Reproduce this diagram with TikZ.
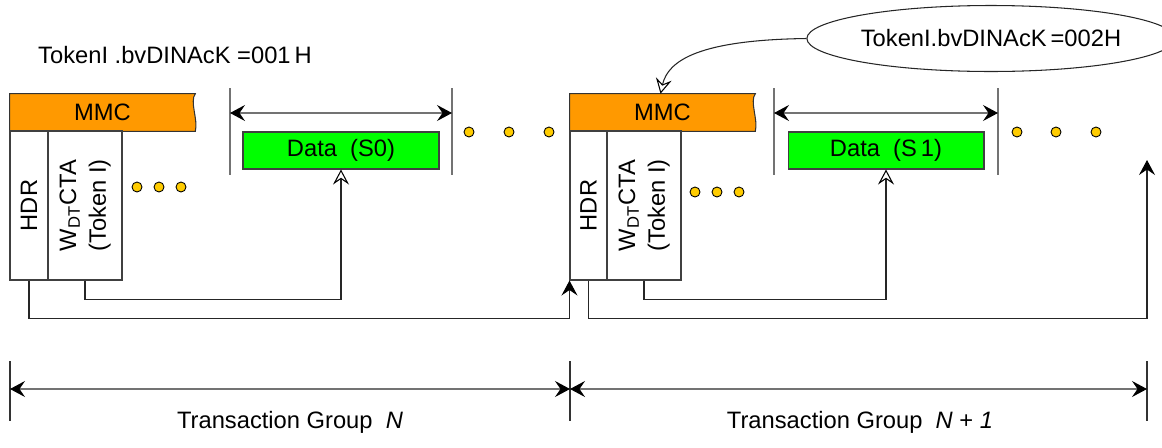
\documentclass[tikz,border=0pt]{standalone}
\usepackage{fontspec}
\setmainfont{Liberation Sans}
\usepackage{graphicx}
\usetikzlibrary{positioning,arrows.meta,shapes.geometric,backgrounds}
\definecolor{mmcorange}{RGB}{255,153,0}
\definecolor{datagreen}{RGB}{0,255,0}
\definecolor{dotgold}{RGB}{255,204,0}

\begin{document}
\begin{tikzpicture}[
    x=0.02cm, y=-0.02cm,
    >={Stealth[length=0.3cm, width=0.32cm, inset=0.11cm, color=black]},
    font=\fontsize{13.5}{17}\selectfont,
    banner/.style={draw=black!80, fill=mmcorange, line width=0.6pt},
    mmc/.style={
        rectangle, minimum width=3.7cm, minimum height=0.74cm,
        inner sep=0pt
    },
    field/.style={
        rectangle, draw=black!75, fill=white, line width=0.6pt,
        minimum height=2.98cm, inner sep=0pt
    },
    data/.style={
        rectangle, draw=black!75, fill=datagreen, line width=0.6pt,
        minimum width=3.92cm, minimum height=0.74cm, inner sep=0pt
    },
    dot/.style={circle, draw=black, fill=dotgold, line width=0.5pt,
        minimum size=0.2cm, inner sep=0pt},
    tick/.style={draw=black!55, line width=0.6pt},
    dim/.style={<->, draw=black!55, line width=0.6pt},
    link/.style={draw=black!85, line width=0.6pt},
    fwd/.style={link, ->},
    ptr/.style={link,
        arrows={-Stealth[open, length=0.3cm, width=0.32cm, inset=0.11cm, color=black]}},
]
\useasboundingbox (0,0) rectangle (1162,447);

% ── Transaction group N ──
\node[mmc] (mmcA) at (102.5,112.5) {MMC};
\node[field, minimum width=0.76cm] (hdrA) at (29,205.5)
    {\rotatebox{90}{HDR}};
\node[field, minimum width=1.48cm] (ctaA) at (85,205.5)
    {\rotatebox{90}{\begin{tabular}{@{}c@{}}W\textsubscript{DT}CTA\\(Token I)\end{tabular}}};
\foreach \x [count=\i] in {137,159,181}
    \node[dot] (dA\i) at (\x,187) {};

\node (ackA) at (175,55) {TokenI .bvDINAcK =001\,H};

\coordinate (spanAl) at (230,113);
\coordinate (spanAr) at (452,113);
\draw[tick] (spanAl) ++(0,-25) -- ++(0,87);
\draw[tick] (spanAr) ++(0,-25) -- ++(0,87);
\draw[dim] (spanAl) -- (spanAr);
\node[data] (dataA) at (341,150.5) {Data\ \ (S0)};
\foreach \x [count=\i] in {469,509,549}
    \node[dot] (eA\i) at (\x,132) {};

% ── Transaction group N+1 ──
\node[mmc] (mmcB) at (662.5,112.5) {MMC};
\node[field, minimum width=0.74cm] (hdrB) at (588.5,205.5)
    {\rotatebox{90}{HDR}};
\node[field, minimum width=1.48cm] (ctaB) at (644,205.5)
    {\rotatebox{90}{\begin{tabular}{@{}c@{}}W\textsubscript{DT}CTA\\(Token I)\end{tabular}}};
\foreach \x [count=\i] in {695,717,739}
    \node[dot] (dB\i) at (\x,192) {};

\node[draw=black!85, ellipse, line width=0.6pt, minimum width=6.8cm,
      minimum height=1.32cm, inner sep=0pt]
    (ackB) at (991,38.5) {TokenI.bvDINAcK\,=002H};

\coordinate (spanBl) at (774,113);
\coordinate (spanBr) at (998,113);
\draw[tick] (spanBl) ++(0,-25) -- ++(0,87);
\draw[tick] (spanBr) ++(0,-25) -- ++(0,87);
\draw[dim] (spanBl) -- (spanBr);
\node[data] (dataB) at (886,150.5) {Data\ \ (S\,1)};
\foreach \x [count=\i] in {1017,1056,1096}
    \node[dot] (eB\i) at (\x,132) {};
\coordinate (endB) at (1147,160);

% MMC banners with torn right edge
\begin{scope}[on background layer]
  \foreach \m in {mmcA,mmcB}
    \draw[banner] (\m.south west) -- (\m.north west) -- (\m.north east)
        .. controls +(-6,8) and +(3,-12) .. (\m.south east) -- cycle;
\end{scope}

% ── Links ──
\draw[ptr] (ctaA.south) -- ++(0,19) -| (dataA.south);
\draw[fwd] (hdrA.south) -- ++(0,38) -| (hdrB.south west);
\draw[ptr] (ctaB.south) -- ++(0,19) -| (dataB.south);
\draw[fwd] (hdrB.south) -- ++(0,38) -| (endB);
\draw[ptr] (ackB.west) .. controls (700,40) and (668,60)
    .. ([xshift=-0.04cm]mmcB.north);

% ── Transaction group spans ──
\coordinate (gA) at (10,389);
\coordinate (gB) at (570,389);
\coordinate (gC) at (1147,389);
\foreach \c in {gA,gB,gC}
    \draw[tick, draw=black!80] (\c) ++(0,-28) -- ++(0,60);
\draw[dim] (gA) -- (gB);
\draw[dim] (gB) -- (gC);
\node (grpA) at (290,422) {Transaction Group\ \ \textit{N}};
\node (grpB) at (860,422) {Transaction Group\ \ \textit{N} + \textit{1}};

\end{tikzpicture}
\end{document}
